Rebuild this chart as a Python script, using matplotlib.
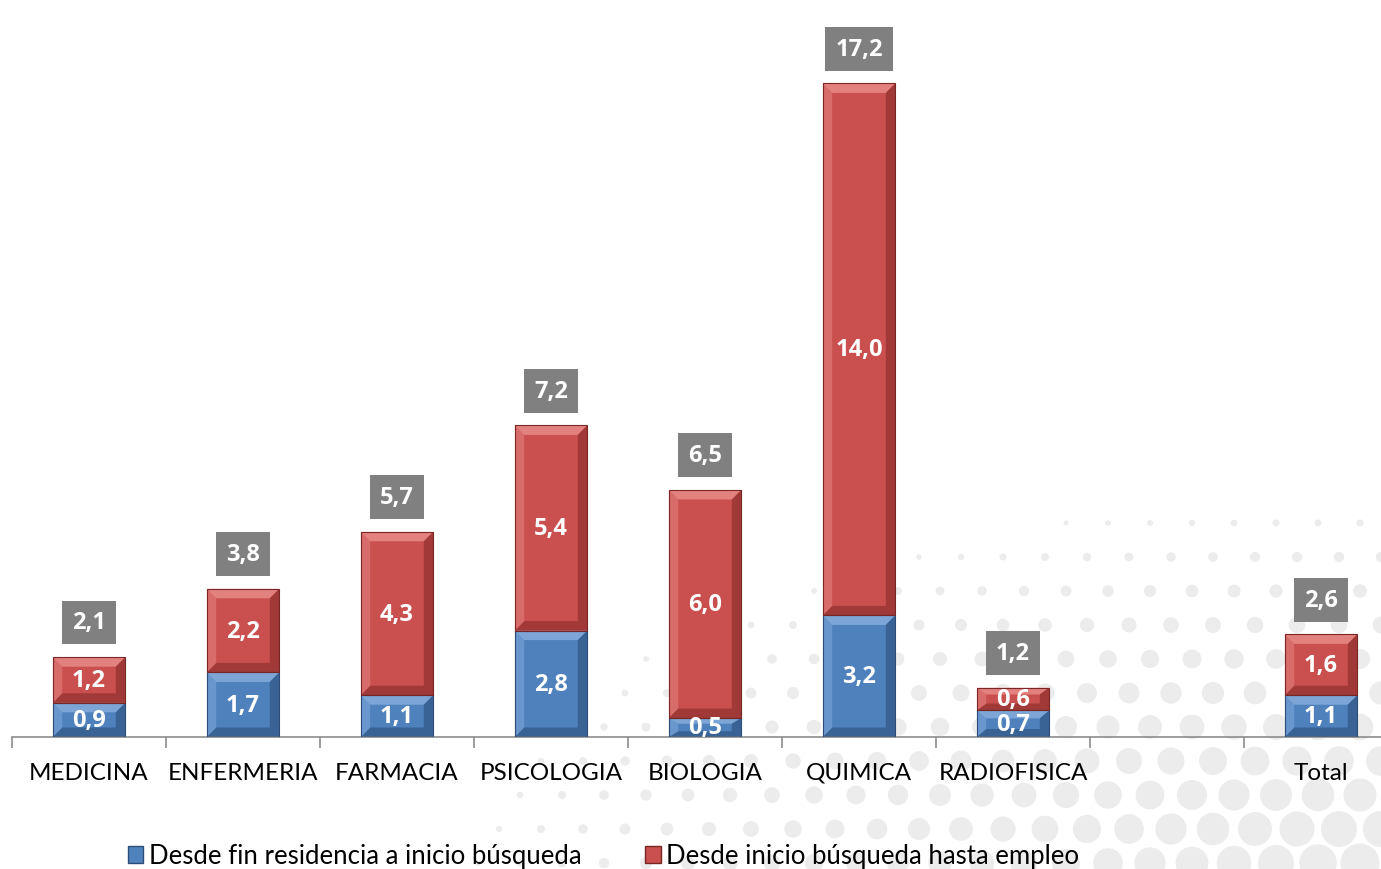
import matplotlib
matplotlib.use('Agg')
import matplotlib.pyplot as plt
from matplotlib.patches import Polygon, Circle, Rectangle
import numpy as np

plt.rcParams['font.family'] = ['Lato', 'DejaVu Sans']
negrita = ['Open Sans', 'DejaVu Sans']

categorias = ['MEDICINA', 'ENFERMERIA', 'FARMACIA', 'PSICOLOGIA', 'BIOLOGIA',
              'QUIMICA', 'RADIOFISICA', '', 'Total']
fin_residencia = [0.9, 1.7, 1.1, 2.8, 0.5, 3.2, 0.7, None, 1.1]
hasta_empleo = [1.2, 2.2, 4.3, 5.4, 6.0, 14.0, 0.6, None, 1.6]
totales = [2.1, 3.8, 5.7, 7.2, 6.5, 17.2, 1.2, None, 2.6]

azul = '#4f81bd'
rojo = '#c9504e'


def coma(v):
    return f'{v:.1f}'.replace('.', ',')


def bisel(ax, bar, claro, oscuro, borde):
    # fake Office 3D bevel on a bar
    x0, y0 = bar.get_x(), bar.get_y()
    w, h = bar.get_width(), bar.get_height()
    dx = w * 0.13
    dy = min(0.25, h * 0.3)
    x1 = x0 + w
    y1 = y0 + h
    caras = [
        ([(x0, y1), (x1, y1), (x1 - dx, y1 - dy), (x0 + dx, y1 - dy)], claro, 0.6),
        ([(x0, y0), (x1, y0), (x1 - dx, y0 + dy), (x0 + dx, y0 + dy)], oscuro, 0.45),
        ([(x1, y0), (x1, y1), (x1 - dx, y1 - dy), (x1 - dx, y0 + dy)], oscuro, 0.45),
        ([(x0, y0), (x0, y1), (x0 + dx, y1 - dy), (x0 + dx, y0 + dy)], claro, 0.35),
    ]
    for pts, c, a in caras:
        ax.add_patch(Polygon(pts, closed=True, facecolor=c, edgecolor='none',
                             alpha=a, zorder=3))
    ax.add_patch(Rectangle((x0, y0), w, h, facecolor='none', edgecolor=borde,
                           lw=0.8, zorder=4))


fig = plt.figure(figsize=(13.81, 8.70), dpi=100)

# decorative dot pattern in the lower right
fondo = fig.add_axes([0, 0, 1, 1], zorder=-1)
fondo.set_xlim(0, 1381)
fondo.set_ylim(870, 0)
fondo.axis('off')
for fila in range(12):
    yy = 490 + fila * 34
    for col in range(26):
        xx = 1381 - col * 42 - (fila % 2) * 21
        d = np.hypot((1381 - xx) / 1000, (870 - yy) / 400)
        r = 19 * (1 - d) + 1
        if d < 1 and r > 2.5:
            fondo.add_patch(Circle((xx, yy), r, color='#ececec', lw=0))

ax = fig.add_axes([12 / 1381, 132 / 870, 1386 / 1381, 722 / 870])
ax.set_facecolor('none')

x = np.arange(len(categorias))
b = [v if v is not None else 0 for v in fin_residencia]
r = [v if v is not None else 0 for v in hasta_empleo]
ancho = 0.47

barras_b = ax.bar(x, b, ancho, color=azul, zorder=2)
barras_r = ax.bar(x, r, ancho, bottom=b, color=rojo, zorder=2)

for i in range(len(categorias)):
    if fin_residencia[i] is None:
        continue
    bisel(ax, barras_b[i], '#9cc0ea', '#1f3d66', '#2c4d78')
    bisel(ax, barras_r[i], '#f5a3a1', '#6e1f1d', '#7a2624')
    ax.text(x[i], b[i] / 2, coma(fin_residencia[i]), ha='center', va='center',
            color='white', fontsize=17, fontweight='bold', family=negrita, zorder=5)
    ax.text(x[i], b[i] + r[i] / 2, coma(hasta_empleo[i]), ha='center', va='center',
            color='white', fontsize=17, fontweight='bold', family=negrita, zorder=5)
    ax.annotate(coma(totales[i]), (x[i], b[i] + r[i]), xytext=(0, 25),
                textcoords='offset points', ha='center', va='center',
                color='white', fontsize=17, fontweight='bold', family=negrita, zorder=6,
                bbox=dict(boxstyle='square,pad=0.42', fc='#808080', ec='none'))

ax.set_xlim(-0.5, len(categorias) - 0.5)
ax.set_ylim(0, 19)
ax.set_xticks(np.arange(len(categorias) + 1) - 0.5)
ax.set_xticklabels([])
ax.set_xticks(x, minor=True)
ax.set_xticklabels(categorias, minor=True, fontsize=17.5)
ax.tick_params(axis='x', which='major', length=8, color='#8c8c8c', width=1.2)
ax.tick_params(axis='x', which='minor', length=0, pad=18)
ax.set_yticks([])
for s in ['top', 'right', 'left']:
    ax.spines[s].set_visible(False)
ax.spines['bottom'].set_color('#8c8c8c')
ax.spines['bottom'].set_linewidth(1.2)

# legend along the bottom
etiquetas = ['Desde fin residencia a inicio búsqueda', 'Desde inicio búsqueda hasta empleo']
leg = fig.legend(handles=[Rectangle((0, 0), 1, 1, fc=azul, ec='#2c4d78'),
                          Rectangle((0, 0), 1, 1, fc=rojo, ec='#7a2624')],
                 labels=etiquetas, loc='center', bbox_to_anchor=(0.437, 0.015),
                 ncol=2, frameon=False, fontsize=18.5, handlelength=0.6,
                 handleheight=0.6, handletextpad=0.2, columnspacing=2.5)

fig.savefig('out.png', dpi=100)
